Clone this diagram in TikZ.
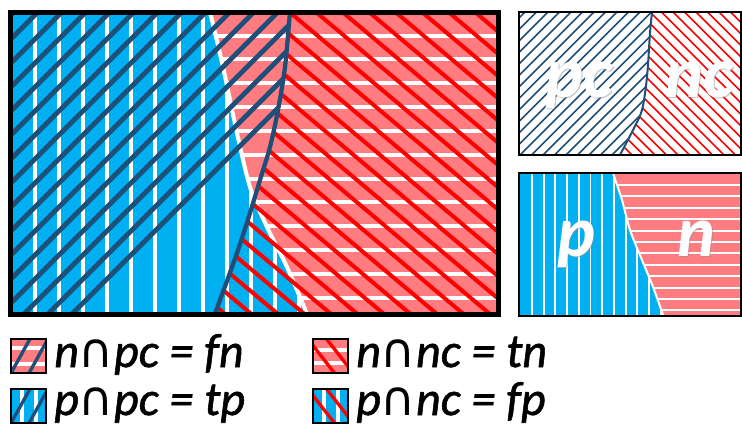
\documentclass[tikz,border=0pt]{standalone}
\usepackage{fontspec}
\setmainfont{Carlito}
\newfontfamily\dejavu{DejaVu Sans}
\newfontface\legface{Carlito Italic}[FakeBold=1.2]
\definecolor{pblue}{HTML}{00B0F0}
\definecolor{npink}{HTML}{FF7C80}
\definecolor{darkb}{HTML}{1F4E79}
\definecolor{redl}{HTML}{FF0000}
\newcommand\capsym{{\dejavu\char"2229}}
\tikzset{
  wstripe/.style={white,line width=3pt},
  thinw/.style={white,line width=1.4pt},
  dline/.style={darkb,line width=3.5pt},
  rline/.style={redl,line width=3pt},
  thind/.style={darkb,line width=1.3pt},
  thinr/.style={redl,line width=1.3pt},
  legbox/.style={draw=black,line width=2.2pt},
  paneltext/.style={font=\fontsize{54}{54}\selectfont\bfseries\itshape,text=white,inner sep=0pt,anchor=base},
  panelshadow/.style={font=\fontsize{54}{54}\selectfont\bfseries\itshape,text=black!45,opacity=0.5,inner sep=0pt,anchor=base},
  legtext/.style={font=\fontsize{36}{36}\legface,text=black,inner sep=0pt,anchor=base west}
}
\begin{document}
\begin{tikzpicture}[x=0.75pt,y=-0.75pt]
\useasboundingbox (0,0) rectangle (742,426);
\def\pncurve{plot[smooth] coordinates {(207,0) (210,12) (223,67) (237,133) (250,187) (267,227) (287,267) (307,314) (314,330)}}
\def\pccurve{plot[smooth] coordinates {(291,0) (290,12) (285,67) (278,110) (270,147) (260,180) (250,213) (237,253) (220,300) (209,330)}}
% ---------- main box ----------
\begin{scope}
  \clip (10,12) rectangle (498,315);
  \fill[npink] (0,0) rectangle (510,330);
  \foreach \k in {0,...,12} \draw[wstripe] (0,{35.5+23.85*\k}) -- (510,{35.5+23.85*\k});
  \begin{scope}
    \clip \pncurve -- (0,330) -- (0,0) -- cycle;
    \fill[pblue] (0,0) rectangle (510,330);
    \foreach \k in {0,...,12} \draw[wstripe] ({35+24*\k},0) -- ({35+24*\k},330);
  \end{scope}
  \draw[white,line width=3pt] \pncurve;
  \begin{scope}
    \clip \pccurve -- (0,330) -- (0,0) -- cycle;
    \foreach \k in {-14,...,14} \draw[dline] ({50+24*\k},0) -- ({-280+24*\k},330);
  \end{scope}
  \begin{scope}
    \clip \pccurve -- (510,330) -- (510,0) -- cycle;
    \foreach \k in {-18,...,9} \draw[rline] ({275.1+26.5*\k},0) -- ({668+26.5*\k},330);
  \end{scope}
  \draw[darkb,line width=3.2pt] \pccurve;
\end{scope}
\draw[black,line width=3.75pt] (10.5,12.5) rectangle (498.5,314.5);
% ---------- top panel ----------
\def\pcsmall{plot[smooth] coordinates {(653,0) (652,12) (650,33) (647,77) (642,110) (633,130) (620,155) (615,165)}}
\begin{scope}
  \clip (519,12) rectangle (741,155);
  \fill[white] (510,0) rectangle (750,165);
  \begin{scope}
    \clip \pcsmall -- (510,165) -- (510,0) -- cycle;
    \foreach \k in {-2,...,25} \draw[thind] ({537+11.5*\k},0) -- ({377+11.5*\k},160);
  \end{scope}
  \begin{scope}
    \clip \pcsmall -- (750,165) -- (750,0) -- cycle;
    \foreach \k in {-18,...,10} \draw[thinr] ({638+11.5*\k},0) -- ({798+11.5*\k},160);
  \end{scope}
  \draw[darkb,line width=1.5pt] \pcsmall;
  \node[panelshadow] (pcs) at (580.5,98.5) {pc};
  \node[paneltext] (pc) at (579,97) {pc};
  \node[panelshadow] (ncs) at (700.5,98.5) {nc};
  \node[paneltext] (nc) at (699,97) {nc};
\end{scope}
\draw[black,line width=1.8pt] (519,12) rectangle (741,155);
% ---------- bottom panel ----------
\def\pnsmall{plot[smooth] coordinates {(611,165) (613,173) (622,200) (630,230) (642,260) (653,287) (663,315) (666,325)}}
\begin{scope}
  \clip (519,173) rectangle (741,316);
  \fill[npink] (510,165) rectangle (750,325);
  \foreach \k in {0,...,11} \draw[thinw] (510,{185+11.4*\k}) -- (750,{185+11.4*\k});
  \begin{scope}
    \clip \pnsmall -- (510,325) -- (510,165) -- cycle;
    \fill[pblue] (510,165) rectangle (750,325);
    \foreach \k in {0,...,12} \draw[thinw] ({532+11.7*\k},165) -- ({532+11.7*\k},325);
  \end{scope}
  \draw[white,line width=1.5pt] \pnsmall;
  \node[panelshadow] (ps) at (577.5,257.5) {p};
  \node[paneltext] (p) at (576,256) {p};
  \node[panelshadow] (ns) at (697.5,257.5) {n};
  \node[paneltext] (n) at (696,256) {n};
\end{scope}
\draw[black,line width=1.8pt] (519,173) rectangle (741,316);
% ---------- legend ----------
% fn
\begin{scope}
  \clip (11,339) rectangle (46,373);
  \fill[npink] (11,339) rectangle (46,373);
  \draw[white,line width=2.5pt] (11,348) -- (46,348) (11,364) -- (46,364);
  \draw[darkb,line width=2.5pt] (10,375) -- (31,337) (28,375) -- (49,337);
\end{scope}
\draw[legbox] (11,339) rectangle (46,373);
\node[legtext] (l1) at (54,367) {n\capsym pc = fn};
% tp
\begin{scope}
  \clip (11,389) rectangle (46,423);
  \fill[pblue] (11,389) rectangle (46,423);
  \draw[white,line width=2.5pt] (22,389) -- (22,423) (36,389) -- (36,423);
  \draw[darkb,line width=2.5pt] (10,425) -- (31,387) (28,425) -- (49,387);
\end{scope}
\draw[legbox] (11,389) rectangle (46,423);
\node[legtext] (l2) at (54,415) {p\capsym pc = tp};
% tn
\begin{scope}
  \clip (313,339) rectangle (348,373);
  \fill[npink] (313,339) rectangle (348,373);
  \draw[white,line width=2.5pt] (313,350) -- (348,350) (313,363) -- (348,363);
  \draw[redl,line width=2.5pt] (311,343) -- (336,375) (325,337) -- (350,369);
\end{scope}
\draw[legbox] (313,339) rectangle (348,373);
\node[legtext] (l3) at (356,367) {n\capsym nc = tn};
% fp
\begin{scope}
  \clip (313,389) rectangle (348,423);
  \fill[pblue] (313,389) rectangle (348,423);
  \draw[white,line width=2.5pt] (324,389) -- (324,423) (338,389) -- (338,423);
  \draw[redl,line width=2.5pt] (311,393) -- (336,425) (325,387) -- (350,419);
\end{scope}
\draw[legbox] (313,389) rectangle (348,423);
\node[legtext] (l4) at (356,415) {p\capsym nc = fp};
\end{tikzpicture}
\end{document}
